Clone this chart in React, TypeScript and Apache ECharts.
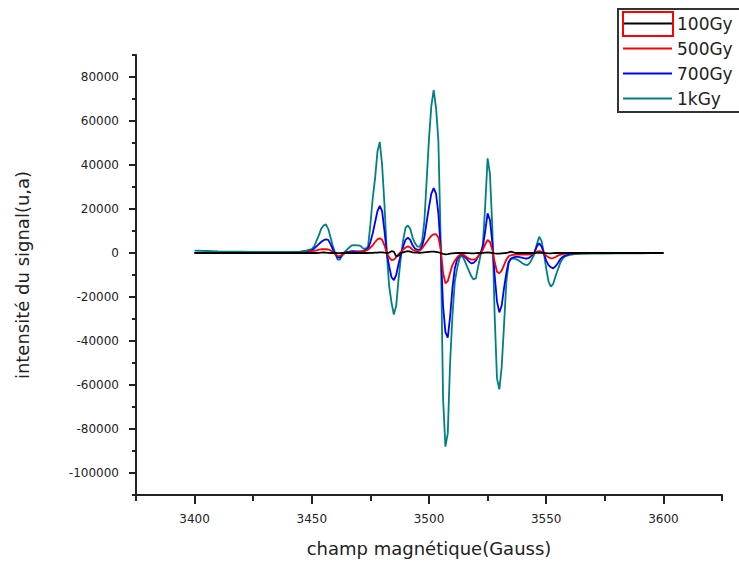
import React, { useEffect, useRef } from "react";
import * as echarts from "echarts";

// Magnetic field (Gauss) sample positions
const fieldGauss = [
  3400, 3405, 3410, 3415, 3420, 3425, 3430, 3435, 3440, 3445,
  3446, 3447, 3448, 3449, 3450, 3451, 3452, 3453, 3454, 3455,
  3456, 3457, 3458, 3459, 3460, 3461, 3462, 3463, 3464, 3465,
  3466, 3467, 3468, 3469, 3470, 3471, 3472, 3473, 3474, 3475,
  3476, 3477, 3478, 3479, 3480, 3481, 3482, 3483, 3484, 3485,
  3486, 3487, 3488, 3489, 3490, 3491, 3492, 3493, 3494, 3495,
  3496, 3497, 3498, 3499, 3500, 3501, 3502, 3503, 3504, 3505,
  3506, 3507, 3508, 3509, 3510, 3511, 3512, 3513, 3514, 3515,
  3516, 3517, 3518, 3519, 3520, 3521, 3522, 3523, 3524, 3525,
  3526, 3527, 3528, 3529, 3530, 3531, 3532, 3533, 3534, 3535,
  3536, 3537, 3538, 3539, 3540, 3541, 3542, 3543, 3544, 3545,
  3546, 3547, 3548, 3549, 3550, 3551, 3552, 3553, 3554, 3555,
  3556, 3557, 3558, 3559, 3560, 3561, 3562,
  3565, 3570, 3575, 3580, 3585, 3590, 3595, 3600,
];

const dose1k = [
  1100, 900, 700, 600, 600, 500, 500, 500, 500, 600,
  800, 1000, 1200, 1500, 1800, 3000, 5500, 8000, 11000, 12500,
  13000, 11000, 7000, 3000, 0, -3000, -3000, -1000, 500, 1500,
  2500, 3500, 3600, 3500, 3500, 3000, 2000, 2000, 3000, 13000,
  25000, 34000, 46000, 50500, 40000, 22000, 0, -15000, -22500, -28000,
  -24000, -12000, -2000, 6000, 11500, 12500, 11000, 7000, 4500, 3000,
  2800, 5000, 14000, 33000, 52000, 67000, 74000, 66000, 51000, 5000,
  -66000, -88000, -82000, -50000, -28500, -13000, -7000, -2500, -1000, -3000,
  -5500, -8000, -10500, -12000, -11500, -6000, -1000, 4000, 22000, 43000,
  36000, 12000, -28000, -57000, -62000, -52000, -33000, -13000, -4500, -2500,
  -2500, -2800, -3200, -4000, -4800, -5300, -5500, -4500, -2500, -500,
  4000, 7400, 5500, 0, -7000, -13000, -15300, -14000, -10500, -7500,
  -4500, -2500, -1500, -1200, -900, -700, -500,
  -400, -300, -300, -200, -200, -200, -100, -100,
];

const dose700 = [
  0, 0, 0, 0, 100, 100, 100, 100, 100, 200,
  200, 300, 500, 800, 1200, 2000, 3000, 4000, 5000, 5800,
  6200, 6000, 4000, 1500, -500, -2000, -2100, -1000, 0, 500,
  600, 800, 800, 700, 700, 800, 1000, 1500, 2000, 5000,
  9000, 14000, 19000, 21400, 19000, 10000, 0, -6000, -11000, -12300,
  -10000, -5000, -500, 3000, 6000, 7000, 6000, 3500, 2000, 1500,
  1400, 3000, 7000, 14000, 21000, 27000, 29500, 27000, 18000, 2000,
  -24000, -36000, -38500, -29000, -16000, -7000, -3000, -1200, -900, -1500,
  -2500, -3800, -4700, -4500, -3500, -1500, 0, 3000, 10000, 18000,
  15000, 5000, -10000, -22000, -27000, -24000, -16000, -9000, -4000, -2500,
  -2000, -1800, -1800, -2000, -2200, -2500, -2500, -2000, -1000, 500,
  3000, 4400, 3000, 0, -3500, -5500, -6500, -7000, -6000, -4500,
  -2800, -1800, -1200, -800, -500, -300, -200,
  -100, -100, -100, 0, 0, 0, 0, 0,
];

const dose500 = [
  0, 0, 0, 0, 0, 0, 0, 0, 0, 100,
  100, 200, 300, 500, 800, 1000, 1200, 1500, 1700, 1700,
  1700, 1600, 1200, 500, -500, -1300, -1400, -800, 0, 200,
  200, 300, 300, 300, 400, 500, 700, 1000, 1500, 2500,
  3500, 5000, 6200, 6700, 6000, 3500, 0, -2000, -3200, -3000,
  -2000, -500, 500, 1500, 2500, 3000, 2500, 1500, 1000, 800,
  1000, 2000, 3500, 5000, 6500, 7800, 8500, 8600, 7000, 2000,
  -9000, -13800, -12800, -9000, -5500, -3500, -2000, -1000, -600, -1000,
  -1800, -2500, -3000, -3000, -2800, -1500, 0, 1500, 4000, 5900,
  5000, 1500, -4000, -8500, -9200, -8000, -5500, -3000, -1500, -1000,
  -800, -700, -700, -700, -700, -700, -700, -600, -500, 0,
  600, 900, 600, 0, -1200, -2000, -2400, -2300, -1800, -1200,
  -800, -500, -300, -200, -200, -200, -200,
  -100, -100, 0, 0, 0, 0, 0, 0,
];

const dose100 = [
  0, 0, 0, 0, 0, 0, 0, 0, 0, 0,
  0, 0, 0, 0, 0, 0, 0, 100, 200, 300,
  200, 100, 0, 0, 0, -100, -100, 0, 0, 0,
  0, 0, 0, 0, 0, 0, 0, 0, 0, 100,
  100, 200, 200, 300, 300, 200, 0, 200, 800, 600,
  -1500, -1200, 0, 300, 600, 800, 600, 300, 200, 200,
  100, 200, 300, 400, 500, 600, 600, 500, 300, 0,
  -400, -600, -500, -300, -200, -100, 0, 0, 0, 0,
  -100, -100, -200, -200, -100, 0, 0, 100, 200, 300,
  200, 0, -200, -300, -300, -200, -100, 0, 300, 600,
  300, 0, 0, 0, 0, 0, 0, 0, 0, 0,
  100, 200, 100, 0, -100, -200, -200, -100, 0, 0,
  0, 0, 0, 0, 0, 0, 0,
  0, 0, 0, 0, 0, 0, 0, 0,
];

const legendNames = ["100Gy", "500Gy", "700Gy", "1kGy"];
const xMajorTicks = [3400, 3450, 3500, 3550, 3600];
const xMinorTicks = [3375, 3425, 3475, 3525, 3575, 3625];
const yMajorTicks = [-100000, -80000, -60000, -40000, -20000, 0, 20000, 40000, 60000, 80000];
const yMinorTicks = [-110000, -90000, -70000, -50000, -30000, -10000, 10000, 30000, 50000, 70000, 90000];

export default function App() {
  const ref = useRef<HTMLDivElement>(null);
  useEffect(() => {
    if (!ref.current) return;
    const chart = echarts.init(ref.current, null, { renderer: "svg" });
    const mk = (arr: number[]) => fieldGauss.map((g, i) => [g, arr[i]]);
    const axisColor = "#222";
    const tickFont = { fontFamily: "DejaVu Sans", fontSize: 12, color: "#222" };
    const nameFont = { fontFamily: "DejaVu Sans", fontSize: 18, color: "#222" };
    chart.setOption({
      animation: false,
      backgroundColor: "#ffffff",
      grid: { left: 136, right: 17, top: 55, bottom: 68, containLabel: false },
      xAxis: [
        {
          type: "value",
          min: 3375,
          max: 3625,
          position: "bottom",
          axisLine: { show: true, onZero: false, lineStyle: { color: axisColor, width: 2 } },
          axisTick: { show: true, inside: false, length: 9, customValues: xMajorTicks, lineStyle: { color: axisColor, width: 2 } },
          axisLabel: { show: true, customValues: xMajorTicks, margin: 18, formatter: (v: number) => String(v), ...tickFont },
          splitLine: { show: false },
          name: "champ magnétique(Gauss)",
          nameLocation: "middle",
          nameGap: 44,
          nameTextStyle: nameFont,
        },
        {
          type: "value",
          min: 3375,
          max: 3625,
          position: "bottom",
          axisLine: { show: false, onZero: false },
          axisTick: { show: true, inside: false, length: 6, customValues: xMinorTicks, lineStyle: { color: axisColor, width: 2 } },
          axisLabel: { show: false },
          splitLine: { show: false },
        },
      ],
      yAxis: [
        {
          type: "value",
          min: -110000,
          max: 90000,
          position: "left",
          axisLine: { show: true, onZero: false, lineStyle: { color: axisColor, width: 2 } },
          axisTick: { show: true, inside: false, length: 7, customValues: yMajorTicks, lineStyle: { color: axisColor, width: 2 } },
          axisLabel: { show: true, customValues: yMajorTicks, margin: 17, formatter: (v: number) => String(v), ...tickFont },
          splitLine: { show: false },
          name: "intensité du signal(u,a)",
          nameLocation: "middle",
          nameGap: 105,
          nameTextStyle: nameFont,
        },
        {
          type: "value",
          min: -110000,
          max: 90000,
          position: "left",
          axisLine: { show: false, onZero: false },
          axisTick: { show: true, inside: false, length: 4, customValues: yMinorTicks, lineStyle: { color: axisColor, width: 2 } },
          axisLabel: { show: false },
          splitLine: { show: false },
        },
      ],
      legend: {
        orient: "vertical",
        left: 623,
        top: 15,
        padding: 0,
        itemWidth: 49,
        itemHeight: 14,
        itemGap: 8,
        icon: "path://M0,0H49V2H0Z",
        data: legendNames,
        textStyle: { fontFamily: "DejaVu Sans", fontSize: 17, color: "#222" },
      },
      graphic: [
        {
          type: "rect",
          shape: { x: 618, y: 9, width: 150, height: 103 },
          style: { fill: "none", stroke: "#333", lineWidth: 2 },
          z: 100,
        },
        {
          type: "rect",
          shape: { x: 623, y: 12, width: 50, height: 24 },
          style: { fill: "none", stroke: "#ff0000", lineWidth: 2 },
          z: 100,
        },
      ],
      series: [
        { name: "1kGy", type: "line", data: mk(dose1k), symbol: "none", lineStyle: { color: "#008080", width: 1.8 }, itemStyle: { color: "#008080" } },
        { name: "700Gy", type: "line", data: mk(dose700), symbol: "none", lineStyle: { color: "#0000ff", width: 1.8 }, itemStyle: { color: "#0000ff" } },
        { name: "500Gy", type: "line", data: mk(dose500), symbol: "none", lineStyle: { color: "#ff0000", width: 1.8 }, itemStyle: { color: "#ff0000" } },
        { name: "100Gy", type: "line", data: mk(dose100), symbol: "none", lineStyle: { color: "#000000", width: 1.8 }, itemStyle: { color: "#000000" } },
      ],
    });
    return () => chart.dispose();
  }, []);
  return (
    <div
      ref={ref}
      style={{ position: "absolute", left: 0, top: 0, width: 739, height: 563, background: "#fff" }}
    />
  );
}
